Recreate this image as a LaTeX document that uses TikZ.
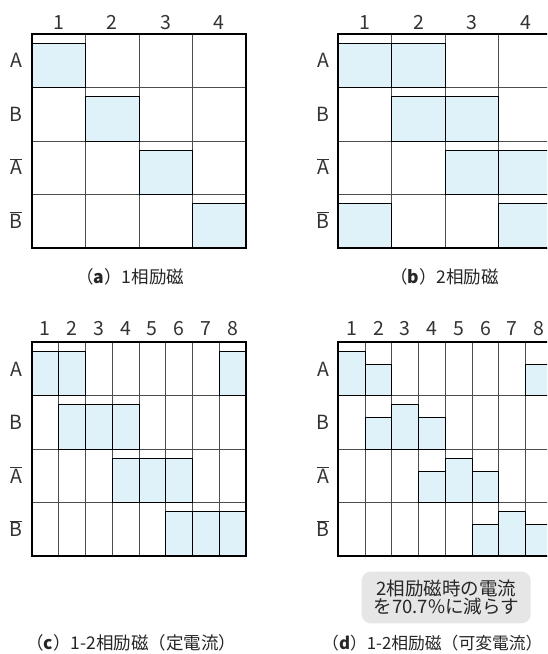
\documentclass[tikz,border=0pt]{standalone}
\usepackage{fontspec}
\setmainfont{Noto Sans CJK JP}
\definecolor{cellblue}{HTML}{DFF1F9}
\definecolor{notegray}{HTML}{E6E6E6}
\newcommand\ovl[1]{\ensuremath{\overline{\mbox{#1}}}}
\begin{document}
\begin{tikzpicture}[x=1pt,y=-1pt,
  lbl/.style={font=\fontsize{19.5}{19.5}\selectfont, inner sep=0pt, text=black!80, anchor=base},
  captxt/.style={font=\fontsize{17.5}{17.5}\selectfont, inner sep=0pt, anchor=west, text=black!85},
  gridln/.style={draw=black!70, line width=1pt},
  cellf/.style={fill=cellblue, draw=black, line width=1pt},
  outer/.style={draw=black, line width=2pt},
  note/.style={fill=notegray, rounded corners=9pt, minimum width=169pt, minimum height=51.6pt,
    inner sep=0pt, align=center, font=\fontsize{18.5}{17.5}\selectfont, text=black!85}]
\useasboundingbox (0,0) rectangle (547,654);
\clip (0,0) rectangle (547,654);
\fill[white] (0,0) rectangle (547,654);

% ---------- panel (a) ----------
\foreach \i in {1,2,3} {
  \draw[gridln] ({32+\i*53.5},34) -- ({32+\i*53.5},248);
  \draw[gridln] (32,{34+\i*53.5}) -- (246,{34+\i*53.5});
}
\foreach \c/\r in {1/1,2/2,3/3,4/4}
  \draw[cellf] ({32+(\c-1)*53.5},{34+\r*53.5-44.5}) rectangle ({32+\c*53.5},{34+\r*53.5});
\draw[outer] (32,34) rectangle (246,248);
\foreach \c in {1,2,3,4}
  \node[lbl] (ac\c) at ({32+(\c-0.5)*53.5},29) {\c};
\node[lbl] (ar1) at (16,67.75) {A};
\node[lbl] (ar2) at (16,121.25) {B};
\node[lbl] (ar3) at (16,174.75) {\ovl{A}};
\node[lbl] (ar4) at (16,228.25) {\ovl{B}};
\node[captxt] (acap) at (76,277) {（\textbf{a}）1相励磁};

% ---------- panel (b) ----------
\foreach \i in {1,2,3} {
  \draw[gridln] ({338.3+\i*53.5},34) -- ({338.3+\i*53.5},248);
}
\foreach \i in {1,2,3}
  \draw[gridln] (338.3,{34+\i*53.5}) -- (560,{34+\i*53.5});
\foreach \c/\r in {1/1,2/1,2/2,3/2,3/3,4/3,1/4,4/4}
  \draw[cellf] ({338.3+(\c-1)*53.5},{34+\r*53.5-44.5}) rectangle ({338.3+\c*53.5},{34+\r*53.5});
\draw[outer] (338.3,34) rectangle (552.3,248);
\foreach \c in {1,2,3,4}
  \node[lbl] (bc\c) at ({338.3+(\c-0.5)*53.5},29) {\c};
\node[lbl] (br1) at (323,67.75) {A};
\node[lbl] (br2) at (323,121.25) {B};
\node[lbl] (br3) at (323,174.75) {\ovl{A}};
\node[lbl] (br4) at (323,228.25) {\ovl{B}};
\node[captxt] (bcap) at (390,277) {（\textbf{b}）2相励磁};

% ---------- panel (c) ----------
\foreach \i in {1,...,7}
  \draw[gridln] ({32+\i*26.75},342.3) -- ({32+\i*26.75},556.3);
\foreach \i in {1,2,3}
  \draw[gridln] (32,{342.3+\i*53.5}) -- (246,{342.3+\i*53.5});
\foreach \c/\r in {1/1,2/1,8/1,2/2,3/2,4/2,4/3,5/3,6/3,6/4,7/4,8/4}
  \draw[cellf] ({32+(\c-1)*26.75},{342.3+\r*53.5-44.5}) rectangle ({32+\c*26.75},{342.3+\r*53.5});
\draw[outer] (32,342.3) rectangle (246,556.3);
\foreach \c in {1,...,8}
  \node[lbl] (cc\c) at ({32+(\c-0.5)*26.75},335) {\c};
\node[lbl] (cr1) at (16,376.05) {A};
\node[lbl] (cr2) at (16,429.55) {B};
\node[lbl] (cr3) at (16,483.05) {\ovl{A}};
\node[lbl] (cr4) at (16,536.55) {\ovl{B}};
\node[captxt] (ccap) at (26,643) {（\textbf{c}）1-2相励磁（定電流）};

% ---------- panel (d) ----------
\foreach \i in {1,...,8}
  \draw[gridln] ({338.3+\i*26.75},342.3) -- ({338.3+\i*26.75},556.3);
\foreach \i in {1,2,3}
  \draw[gridln] (338.3,{342.3+\i*53.5}) -- (560,{342.3+\i*53.5});
\foreach \c/\r/\h in {1/1/44.5,2/1/31.5,8/1/31.5,2/2/31.5,3/2/44.5,4/2/31.5,4/3/31.5,5/3/44.5,6/3/31.5,6/4/31.5,7/4/44.5,8/4/31.5}
  \draw[cellf] ({338.3+(\c-1)*26.75},{342.3+\r*53.5-\h}) rectangle ({338.3+\c*26.75},{342.3+\r*53.5});
\draw[outer] (338.3,342.3) rectangle (552.3,556.3);
\foreach \c in {1,...,8}
  \node[lbl] (dc\c) at ({338.3+(\c-0.5)*26.75},335) {\c};
\node[lbl] (dr1) at (323,376.05) {A};
\node[lbl] (dr2) at (323,429.55) {B};
\node[lbl] (dr3) at (323,483.05) {\ovl{A}};
\node[lbl] (dr4) at (323,536.55) {\ovl{B}};
\node[note] (dnote) at (446.2,597.5) {2相励磁時の電流\\を70.7\%に減らす};
\node[captxt, font=\fontsize{16.8}{16.8}\selectfont] (dcap) at (322,643) {（\textbf{d}）1-2相励磁（可変電流）};
\end{tikzpicture}
\end{document}
